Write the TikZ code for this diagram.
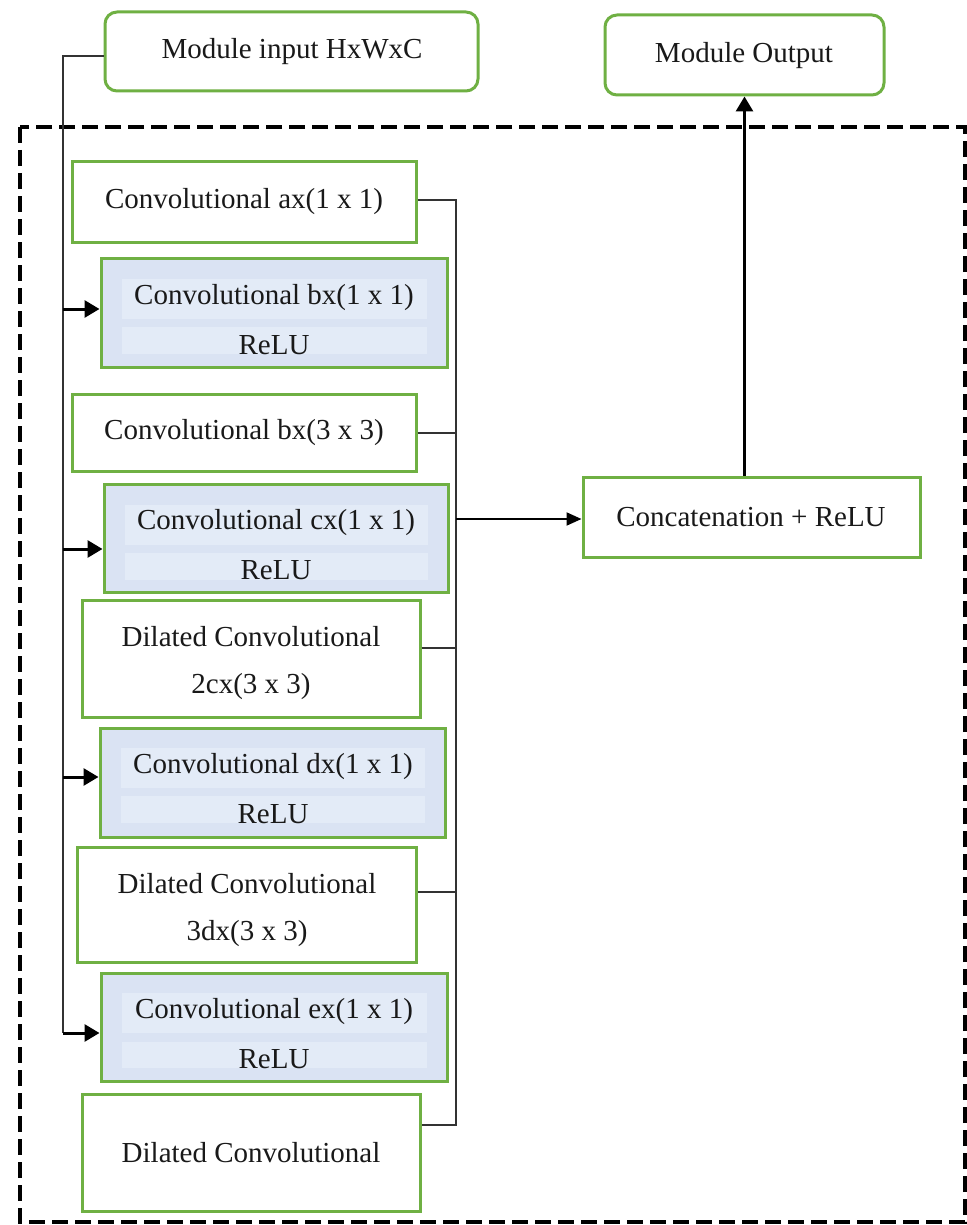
\documentclass[tikz,border=0pt]{standalone}
\usepackage{fontspec}
\setmainfont{Liberation Serif}
\usetikzlibrary{fit,arrows.meta}
\definecolor{boxgreen}{HTML}{6FB043}
\definecolor{bluefill}{HTML}{DAE3F3}
\definecolor{bandfill}{HTML}{E3EBF7}
\definecolor{linegray}{HTML}{333333}
\tikzset{
  every node/.style={font=\fontsize{29}{35}\selectfont, text=black!90},
  gbox/.style={draw=boxgreen, line width=3pt, fill=white, inner sep=0pt},
  rbox/.style={gbox, rounded corners=12pt},
  bbox/.style={draw=boxgreen, line width=3pt, fill=bluefill, inner sep=0pt},
  band/.style={fill=bandfill, draw=none, inner sep=0pt},
  txt/.style={inner sep=0pt},
  thinline/.style={draw=linegray, line width=1.6pt},
  thickarrow/.style={draw=black, line width=3pt, -{Triangle[length=15pt,width=17pt]}},
  midarrow/.style={draw=black, line width=2pt, -{Triangle[length=15pt,width=13pt]}},
  frame/.style={draw=black, line width=3.2pt, dash pattern=on 16pt off 7pt}
}
\begin{document}
\begin{tikzpicture}[x=1pt,y=-1pt]
\useasboundingbox (0,0) rectangle (966,1225);
% dashed module frame
\draw[frame] (20,127) rectangle (965,1222);

% top boxes
\node[rbox, fit={(105,12) (478,91)}] (min) {};
\node[txt] (minl) at (292,52) {Module input HxWxC};
\node[rbox, fit={(605,15) (884,95)}] (mout) {};
\node[txt] (moutl) at (744,56) {Module Output};

% white boxes
\node[gbox, fit={(72,162) (416,242)}] (ax) {};
\node[txt] (axl) at (244,202) {Convolutional ax(1 x 1)};
\node[gbox, fit={(72,394) (416,471)}] (bx3) {};
\node[txt] (bx3l) at (244,433) {Convolutional bx(3 x 3)};
\node[gbox, fit={(82,600) (420,717)}] (dl1) {};
\node[txt] (dl1a) at (251,637) {Dilated Convolutional};
\node[txt] (dl1b) at (251,687) {2cx(3 x 3)};
\node[gbox, fit={(77,847) (416,962)}] (dl2) {};
\node[txt] (dl2a) at (247,884) {Dilated Convolutional};
\node[txt] (dl2b) at (247,934) {3dx(3 x 3)};
\node[gbox, fit={(82,1094) (420,1211)}] (dl3) {};
\node[txt] (dl3a) at (251,1153) {Dilated Convolutional};

% blue boxes
\node[bbox, fit={(101,258) (447,367)}] (bx1) {};
\node[band, fit={(122,279) (427,319)}] (bx1t) {};
\node[band, fit={(122,327) (427,354)}] (bx1b) {};
\node[txt] (bx1l1) at (274,298) {Convolutional bx(1 x 1)};
\node[txt] (bx1l2) at (274,345) {ReLU};

\node[bbox, fit={(104,484) (448,592)}] (cx) {};
\node[band, fit={(125,505) (428,545)}] (cxt) {};
\node[band, fit={(125,553) (428,580)}] (cxb) {};
\node[txt] (cxl1) at (276,523) {Convolutional cx(1 x 1)};
\node[txt] (cxl2) at (276,570) {ReLU};

\node[bbox, fit={(100,728) (445,837)}] (dx) {};
\node[band, fit={(121,748) (425,788)}] (dxt) {};
\node[band, fit={(121,796) (425,823)}] (dxb) {};
\node[txt] (dxl1) at (273,767) {Convolutional dx(1 x 1)};
\node[txt] (dxl2) at (273,814) {ReLU};

\node[bbox, fit={(101,973) (447,1081)}] (ex) {};
\node[band, fit={(122,993) (427,1033)}] (ext) {};
\node[band, fit={(122,1042) (427,1068)}] (exb) {};
\node[txt] (exl1) at (274,1012) {Convolutional ex(1 x 1)};
\node[txt] (exl2) at (274,1059) {ReLU};

% concatenation
\node[gbox, fit={(583,477) (920,557)}] (cat) {};
\node[txt] (catl) at (751,517) {Concatenation + ReLU};

% input distribution line
\coordinate (itop) at (63,56);
\coordinate (i1) at (63,309);
\coordinate (i2) at (63,549);
\coordinate (i3) at (63,777);
\coordinate (i4) at (63,1033);
\draw[thinline] (min.west |- itop) -- (itop) -- (i4);
\draw[thickarrow] (i1) -- (i1 -| bx1.west);
\draw[thickarrow] (i2) -- (i2 -| cx.west);
\draw[thickarrow] (i3) -- (i3 -| dx.west);
\draw[thickarrow] (i4) -- (i4 -| ex.west);

% collector line
\coordinate (ctop) at (456,200);
\coordinate (cbot) at (456,1125);
\coordinate (cj) at (456,519);
\draw[thinline] (ax.east |- ctop) -- (ctop) -- (cbot) -- (cbot -| dl3.east);
\draw[thinline] (bx3.east |- 0,433) -- (456,433);
\draw[thinline] (dl1.east |- 0,648) -- (456,648);
\draw[thinline] (dl2.east |- 0,892) -- (456,892);
\draw[midarrow] (cj) -- (cj -| cat.west);

% output arrow
\draw[thickarrow] (cat.north -| mout.south) -- (mout.south);
\end{tikzpicture}
\end{document}
